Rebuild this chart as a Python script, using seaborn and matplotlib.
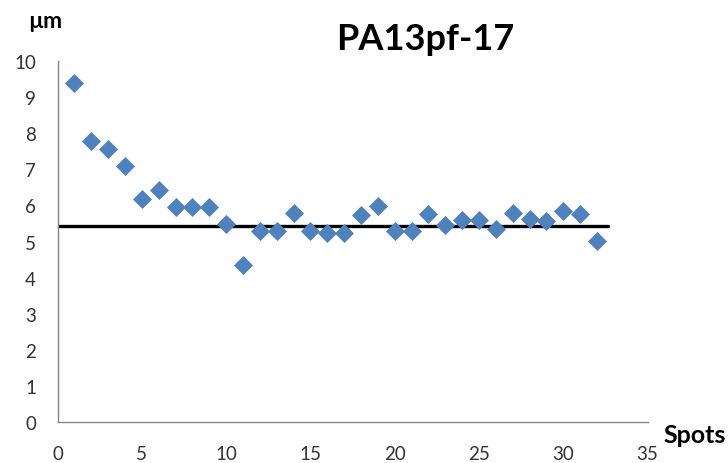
import matplotlib
matplotlib.use("Agg")
import matplotlib.pyplot as plt
import seaborn as sns
import pandas as pd

# Measured spot sizes (µm) for sample PA13pf-17
spots = list(range(1, 33))
size_um = [9.38, 7.79, 7.56, 7.09, 6.18, 6.42, 5.95, 5.95, 5.95, 5.48,
           4.36, 5.28, 5.28, 5.78, 5.28, 5.24, 5.24, 5.73, 5.97, 5.28,
           5.28, 5.76, 5.47, 5.59, 5.59, 5.35, 5.80, 5.62, 5.56, 5.84,
           5.76, 5.01]
mean_level = 5.44
mean_span = [0, 32.65]

x_ticks = [0, 5, 10, 15, 20, 25, 30, 35]
y_ticks = [0, 1, 2, 3, 4, 5, 6, 7, 8, 9, 10]

sns.set_style("white")
plt.rcParams["font.family"] = ["Lato", "DejaVu Sans"]

df = pd.DataFrame({"spot": spots, "size": size_um})

fig = plt.figure(figsize=(7.28, 4.64), dpi=100)
ax = fig.add_axes([0.0791, 0.0877, 0.8105, 0.7793])

sns.scatterplot(data=df, x="spot", y="size", marker="D", s=94,
                color="#4F81BD", linewidth=0, ax=ax, zorder=3)
ax.plot(mean_span, [mean_level, mean_level], color="black", lw=2.4, zorder=2)

ax.set_xlim(0, 35)
ax.set_ylim(0, 10)
ax.set_xticks(x_ticks)
ax.set_yticks(y_ticks)
ax.set_xlabel("")
ax.set_ylabel("")

axis_grey = "#868686"
for side in ["top", "right"]:
    ax.spines[side].set_visible(False)
for side in ["left", "bottom"]:
    ax.spines[side].set_color(axis_grey)
    ax.spines[side].set_linewidth(1.0)

ax.tick_params(axis="both", direction="out", length=6.5, width=1.0,
               color=axis_grey, labelsize=13.5, labelcolor="#333333")
ax.tick_params(axis="y", pad=9)
ax.tick_params(axis="x", pad=10)

fig.text(425 / 728, 1 - 39 / 464, "PA13pf-17", ha="center", va="center",
         fontsize=26, fontweight="bold", color="black")
fig.text(45 / 728, 1 - 22 / 464, "µm", ha="center", va="center",
         fontsize=16.5, fontweight="bold", color="black")
fig.text(663 / 728, 1 - 436 / 464, "Spots", ha="left", va="center",
         fontsize=18, fontweight="bold", color="black")

fig.savefig("out.png", dpi=100)
